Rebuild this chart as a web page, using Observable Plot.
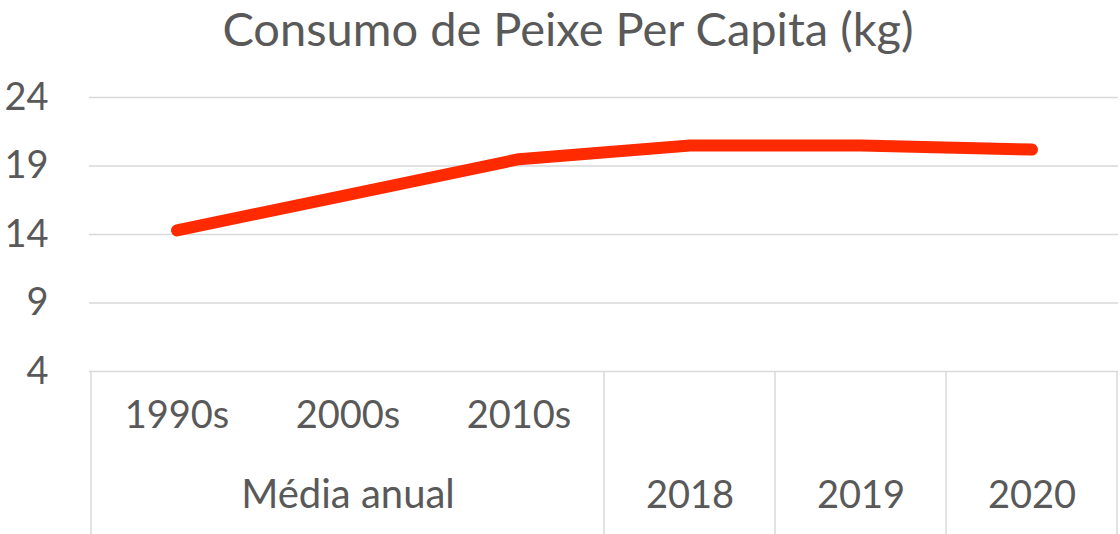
<!DOCTYPE html>
<html>
<head>
<meta charset="utf-8">
<script src="https://cdn.jsdelivr.net/npm/d3@7"></script>
<script src="https://cdn.jsdelivr.net/npm/@observablehq/plot@0.6"></script>
<style>
  html, body { margin: 0; padding: 0; background: #fff; }
  #title { width: 1120px; height: 60px; line-height: 56px; text-align: center;
           font-family: Lato, "Open Sans", sans-serif; font-size: 47px; color: #595959;
           padding-left: 16px; box-sizing: border-box; white-space: nowrap; }
</style>
</head>
<body>
<div id="title"></div>
<div id="chart"></div>
<script>
const chartTitle = "Consumo de Peixe Per Capita (kg)";
const categories = ["1990s", "2000s", "2010s", "2018", "2019", "2020"];
const values = [14.3, 16.9, 19.5, 20.5, 20.5, 20.2];
const yTicks = [4, 9, 14, 19, 24];
const groupLabel = "Média anual";
const groupMembers = ["1990s", "2000s", "2010s"];
const singleYears = ["2018", "2019", "2020"];

const data = categories.map((c, i) => ({cat: c, val: values[i]}));
document.getElementById("title").textContent = chartTitle;

const gridColor = "#d9d9d9";
const textColor = "#595959";
const fs = 38;
const svgH = 474;

const chart = Plot.plot({
  width: 1120,
  height: svgH,
  marginTop: 37,
  marginBottom: 163,
  marginLeft: 89,
  marginRight: 2,
  style: {fontFamily: "Lato, 'Open Sans', sans-serif", fontSize: fs + "px", color: textColor, background: "#fff"},
  x: {type: "band", domain: categories, padding: 0, axis: null},
  y: {domain: [4, 24], axis: null},
  marks: [
    Plot.gridY(yTicks, {stroke: gridColor, strokeOpacity: 1, strokeWidth: 1.5}),
    Plot.axisY(yTicks, {tickSize: 0, tickPadding: 41, fontSize: fs, fill: textColor, label: null, tickFormat: d => String(d)}),
    Plot.line(data, {x: "cat", y: "val", stroke: "#ff2a00", strokeWidth: 12,
                     strokeLinecap: "round", strokeLinejoin: "round"}),
    Plot.text(groupMembers, {x: d => d, frameAnchor: "bottom", dy: 56, fill: textColor, fontSize: fs}),
    Plot.text(singleYears, {x: d => d, frameAnchor: "bottom", dy: 136, fill: textColor, fontSize: fs}),
    Plot.text([groupLabel], {x: () => groupMembers[Math.floor(groupMembers.length / 2)],
                             frameAnchor: "bottom", dy: 136, fill: textColor, fontSize: 40})
  ]
});
document.getElementById("chart").appendChild(chart);

// Category dividers in the bottom margin, positioned through Plot's x scale
const sx = chart.scale("x");
const sy = chart.scale("y");
const bottomY = sy.apply(4);
const boundaries = [];
boundaries.push(sx.apply(categories[0]));
boundaries.push(sx.apply(singleYears[0]));
for (let i = 1; i < singleYears.length; i++) boundaries.push(sx.apply(singleYears[i]));
boundaries.push(sx.apply(categories[categories.length - 1]) + sx.bandwidth);
d3.select(chart).append("g")
  .attr("stroke", gridColor).attr("stroke-width", 1.5)
  .selectAll("line").data(boundaries).join("line")
  .attr("x1", d => d).attr("x2", d => d)
  .attr("y1", bottomY).attr("y2", svgH);
</script>
</body>
</html>
